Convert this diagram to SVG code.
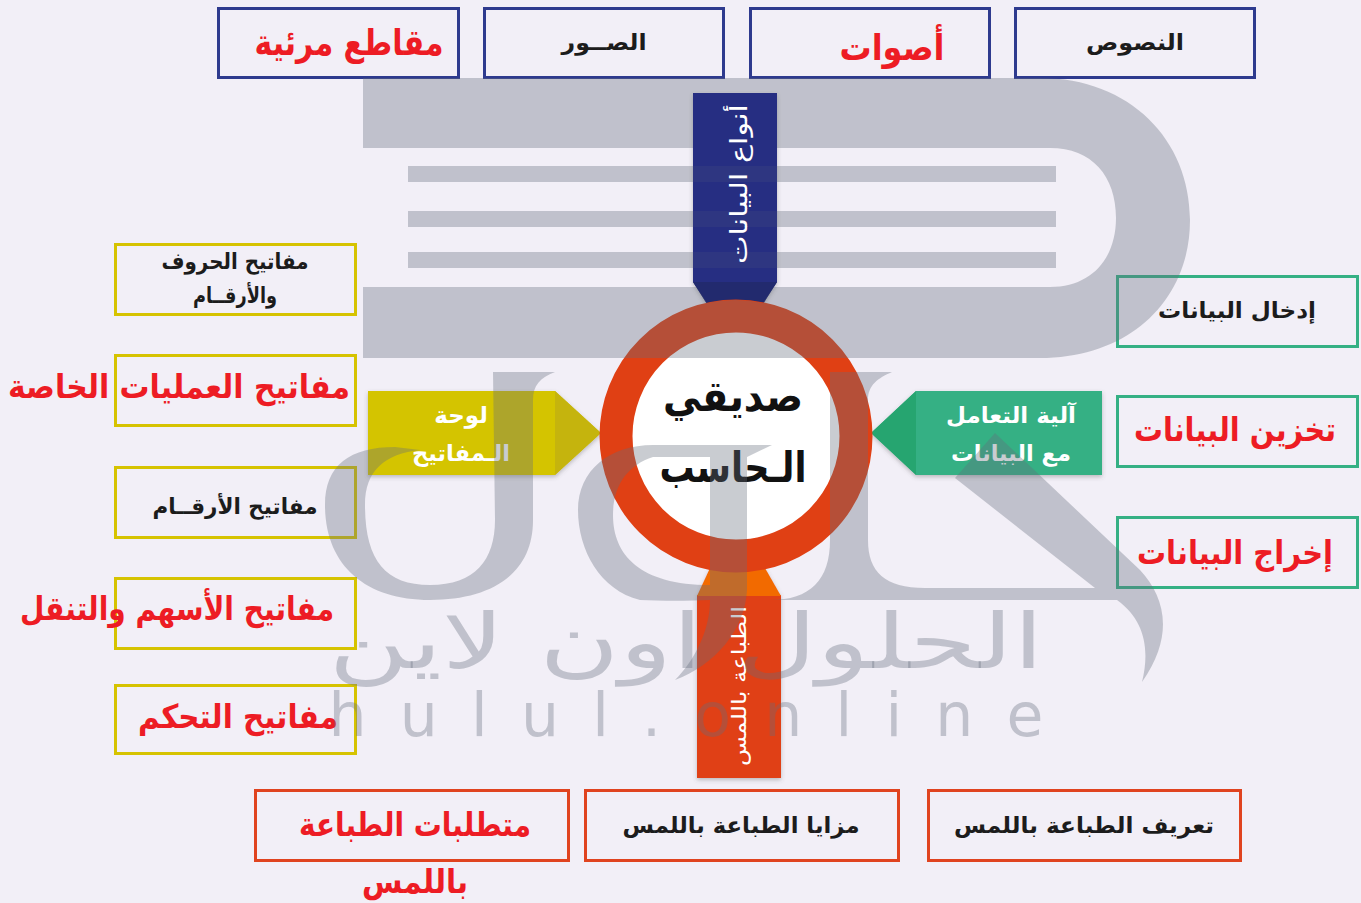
<svg xmlns="http://www.w3.org/2000/svg" width="1361" height="903" viewBox="0 0 1361 903">
<style>
text{font-family:"DejaVu Sans","Noto Sans",sans-serif;font-weight:700;text-anchor:middle;direction:rtl}
.box{fill:none;stroke-width:3}
.nv{stroke:#2e3a8e}.ye{stroke:#d6c300}.gr{stroke:#35b084}.re{stroke:#e0431f}
.k{fill:#1c1c1c;font-size:22px}
.r{fill:#ed1c24;font-size:33px}
.w{fill:#fff;font-size:23px}
.wm{fill:#646e7b;fill-opacity:.35}
.wt{fill:#646e7b;fill-opacity:.35;font-weight:400}
</style>
<defs>
<filter id="sh" x="-20%" y="-20%" width="140%" height="140%"><feDropShadow dx="0" dy="2" stdDeviation="2" flood-color="#555" flood-opacity=".35"/></filter>
<clipPath id="notab"><path clip-rule="evenodd" d="M0,0H1361V903H0ZM693,93H777V282L763,303A136,136 0 0 0 707,303L693,282Z"/></clipPath>
</defs>
<rect width="1361" height="903" fill="#f2eff7"/>
<g id="types-top">
<g id="n-video"><rect class="box nv" x="218.500" y="8.500" width="240" height="69"/><text class="r" x="349" y="55" textLength="189" lengthAdjust="spacingAndGlyphs" style="font-size:36px">مقاطع مرئية</text></g>
<g id="n-images"><rect class="box nv" x="484.500" y="8.500" width="239" height="69"/><text class="k" x="604" y="50" textLength="85" lengthAdjust="spacingAndGlyphs">الصــور</text></g>
<g id="n-sounds"><rect class="box nv" x="750.500" y="8.500" width="239" height="69"/><text class="r" x="892" y="60" textLength="105" lengthAdjust="spacingAndGlyphs" style="font-size:36px">أصوات</text></g>
<g id="n-texts"><rect class="box nv" x="1015.500" y="8.500" width="239" height="69"/><text class="k" x="1135" y="50" textLength="98" lengthAdjust="spacingAndGlyphs">النصوص</text></g>
</g>
<g id="connectors">
<g filter="url(#sh)">
<polygon points="693,93 777,93 777,282 763,304 707,304 693,282" fill="#262f82"/>
<polygon points="693,282 777,282 763,304 707,304" fill="#232a6e"/>
<polygon points="368,391 555,391 601,433 555,475 368,475" fill="#d4c400"/>
<polygon points="555,391 601,433 555,475" fill="#c5b410"/>
<polygon points="1102,391 916,391 871,433 916,475 1102,475" fill="#35b084"/>
<polygon points="916,391 871,433 916,475" fill="#27a56f"/>
<polygon points="697,595 781,595 781,778 697,778" fill="#e04014"/>
<polygon points="697,596 710,568 765,568 781,596" fill="#f26a06"/>
</g>
<rect x="693" y="166" width="84" height="16" fill="#646e7b" fill-opacity=".13"/>
<rect x="693" y="211" width="84" height="16" fill="#646e7b" fill-opacity=".13"/>
<rect x="693" y="252" width="84" height="16" fill="#646e7b" fill-opacity=".13"/>
</g>
<g id="n-center">
<circle cx="736" cy="436" r="120" fill="#fff" stroke="#e04014" stroke-width="33"/>
<text x="733" y="411" fill="#111" textLength="140" lengthAdjust="spacingAndGlyphs" style="font-size:42px">صديقي</text>
<text x="733" y="482" fill="#111" textLength="147" lengthAdjust="spacingAndGlyphs" style="font-size:42px">الـحاسب</text>
</g>
<g id="n-datatypes"><text class="w" transform="translate(747,184) rotate(-90)" textLength="160" lengthAdjust="spacingAndGlyphs" style="font-size:24px;font-weight:400">أنواع البيانات</text></g>
<g id="n-keyboard"><text class="w" x="461" y="423">لوحة</text><text class="w" x="461" y="461" textLength="98" lengthAdjust="spacingAndGlyphs">الـمفاتيح</text></g>
<g id="n-handling"><text class="w" x="1011" y="423" textLength="130" lengthAdjust="spacingAndGlyphs" style="font-size:22px">آلية التعامل</text><text class="w" x="1011" y="461" textLength="120" lengthAdjust="spacingAndGlyphs" style="font-size:22px">مع البيانات</text></g>
<g id="n-typing"><text class="w" transform="translate(746,686) rotate(-90)" textLength="160" lengthAdjust="spacingAndGlyphs" style="font-size:20px;font-weight:400">الطباعة باللمس</text></g>
<g id="keys-left">
<g id="n-alnum"><rect class="box ye" x="115.500" y="244.500" width="240" height="70"/><text class="k" x="235" y="269" textLength="147" lengthAdjust="spacingAndGlyphs">مفاتيح الحروف</text><text class="k" x="235" y="303" textLength="84" lengthAdjust="spacingAndGlyphs">والأرقــام</text></g>
<g id="n-special"><rect class="box ye" x="115.500" y="355.500" width="240" height="70"/><text class="r" x="179" y="398" textLength="342" lengthAdjust="spacingAndGlyphs">مفاتيح العمليات الخاصة</text></g>
<g id="n-numeric"><rect class="box ye" x="115.500" y="467.500" width="240" height="70"/><text class="k" x="235" y="514" textLength="165" lengthAdjust="spacingAndGlyphs">مفاتيح الأرقــام</text></g>
<g id="n-arrows"><rect class="box ye" x="115.500" y="578.500" width="240" height="70"/><text class="r" x="177" y="620" textLength="314" lengthAdjust="spacingAndGlyphs">مفاتيح الأسهم والتنقل</text></g>
<g id="n-control"><rect class="box ye" x="115.500" y="685.500" width="240" height="68"/><text class="r" x="238" y="728" textLength="200" lengthAdjust="spacingAndGlyphs">مفاتيح التحكم</text></g>
</g>
<g id="handling-right">
<g id="n-input"><rect class="box gr" x="1117.500" y="276.500" width="240" height="70"/><text class="k" x="1237" y="318" textLength="158" lengthAdjust="spacingAndGlyphs">إدخال البيانات</text></g>
<g id="n-store"><rect class="box gr" x="1117.500" y="396.500" width="240" height="70"/><text class="r" x="1235" y="441" textLength="202" lengthAdjust="spacingAndGlyphs">تخزين البيانات</text></g>
<g id="n-output"><rect class="box gr" x="1117.500" y="517.500" width="240" height="70"/><text class="r" x="1235" y="564" textLength="196" lengthAdjust="spacingAndGlyphs">إخراج البيانات</text></g>
</g>
<g id="typing-bottom">
<g id="n-req"><rect class="box re" x="255.500" y="790.500" width="313" height="70"/><text class="r" x="415" y="836" textLength="232" lengthAdjust="spacingAndGlyphs">متطلبات الطباعة</text><text class="r" x="415" y="893" textLength="106" lengthAdjust="spacingAndGlyphs">باللمس</text></g>
<g id="n-adv"><rect class="box re" x="585.500" y="790.500" width="313" height="70"/><text class="k" x="741" y="833" textLength="237" lengthAdjust="spacingAndGlyphs">مزايا الطباعة باللمس</text></g>
<g id="n-def"><rect class="box re" x="928.500" y="790.500" width="312" height="70"/><text class="k" x="1084" y="833" textLength="260" lengthAdjust="spacingAndGlyphs">تعريف الطباعة باللمس</text></g>
</g>
<g id="watermark">
<g clip-path="url(#notab)">
<path class="wm" fill-rule="evenodd" d="M363,78H1040C1130,78 1190,140 1190,220C1190,300 1130,358 1040,358H363V287H1050C1092,287 1116,258 1116,218C1116,176 1092,148 1050,148H363Z"/>
<rect class="wm" x="408" y="166" width="648" height="16"/>
<rect class="wm" x="408" y="211" width="648" height="16"/>
<rect class="wm" x="408" y="252" width="648" height="16"/>
</g>
<path class="wm" d="M493,372H555C540,378 533,385 533,400V520C533,575 490,600 430,600C365,600 325,565 325,505C325,465 350,447 395,447L420,450C385,454 365,470 365,505C365,560 385,585 430,585C475,585 495,560 495,520Z"/>
<path class="wm" fill-rule="evenodd" d="M772,445L747,457V590C745,630 715,665 675,680C695,660 710,630 710,600C690,601 660,601 640,600C600,590 578,550 578,510C578,470 610,445 653,445ZM653,457C628,465 613,485 613,515C613,555 640,585 710,585V457Z"/>
<path class="wm" d="M830,372H892C878,378 868,385 868,400V540C868,572 885,588 925,588H1095L955,478L995,433L1140,570C1165,597 1175,635 1142,682C1150,650 1145,620 1117,600H770C810,600 830,580 830,540Z"/>
<text class="wt" x="686" y="668" textLength="715" lengthAdjust="spacingAndGlyphs" style="font-size:76px">الحلول اون لاين</text>
<text class="wt" x="686" y="736" textLength="715" style="font-size:60px;direction:ltr">hulul.online</text>
</g>
</svg>
